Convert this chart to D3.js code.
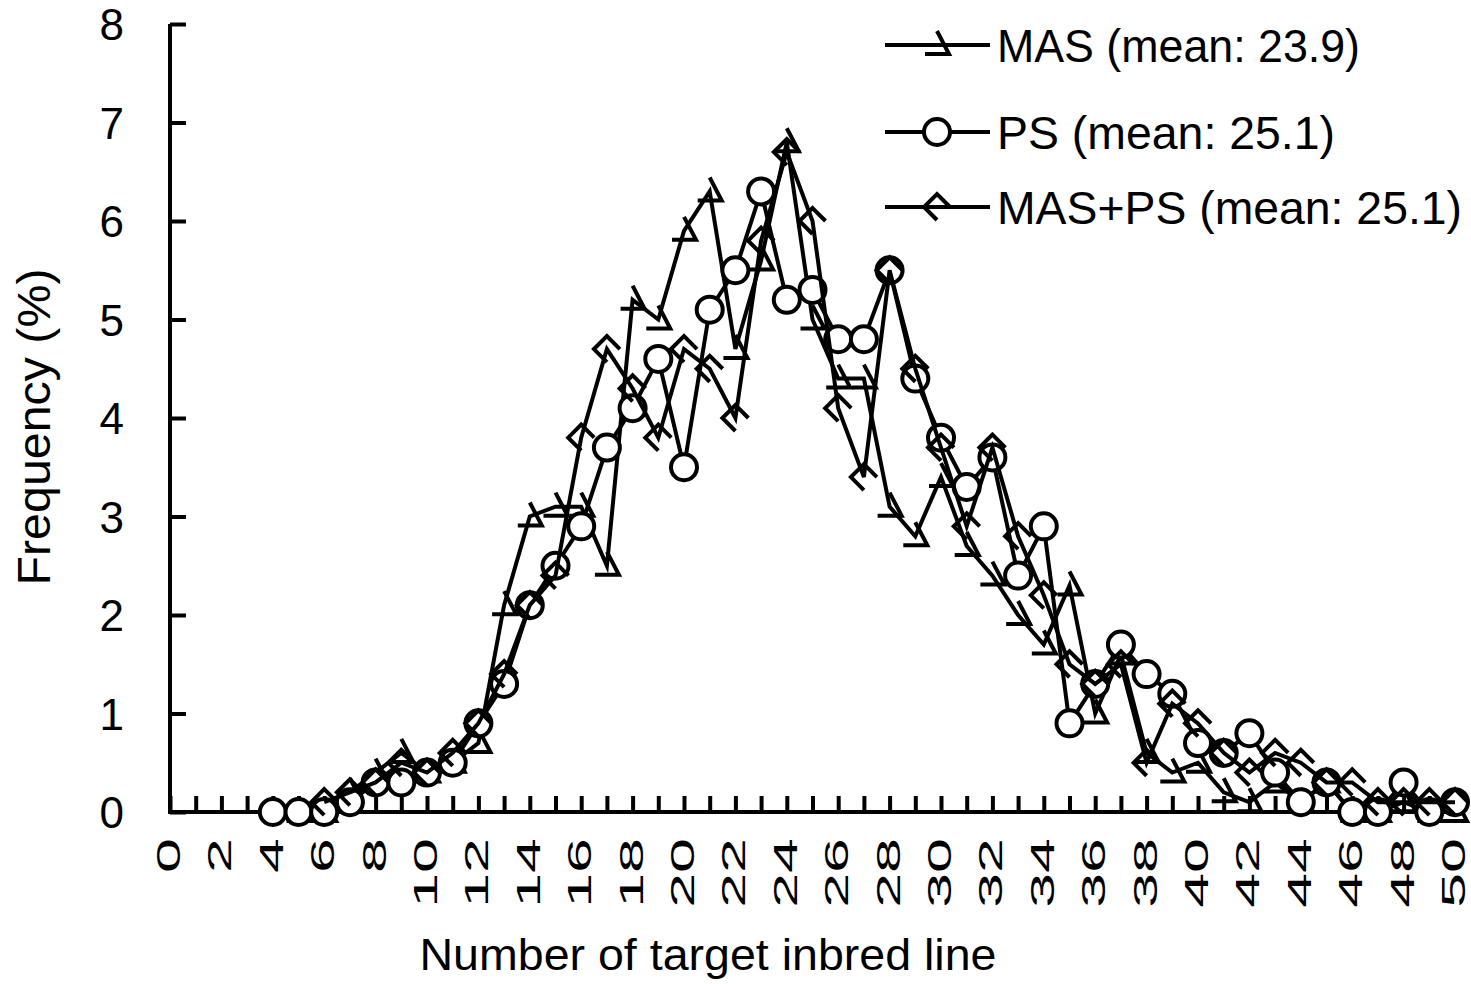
<!DOCTYPE html>
<html>
<head>
<meta charset="utf-8">
<script src="https://cdn.jsdelivr.net/npm/d3@7"></script>
<style>
  body { margin: 0; background: #fff; }
  text { font-family: "Liberation Sans", Arial, sans-serif; fill: #000; }
</style>
</head>
<body>
<div id="chart"></div>
<script>
// frequency of target inbred lines per selection method

var svgwidth = 1471;
var svgheight = 984;

// x categories (number of target inbred lines)
var bins = [4,5,6,7,8,9,10,11,12,13,14,15,16,17,18,19,20,21,22,23,24,25,26,27,
            28,29,30,31,32,33,34,35,36,37,38,39,40,41,42,43,44,45,46,47,48,49,50];

// frequency (%) for each method, null = no point
var masValues = [null,0,0,0.2,0.4,0.6,0.4,0.5,0.7,2.1,3.0,3.1,3.1,2.5,5.2,5.0,5.9,6.3,4.7,5.6,
                 6.8,5.0,4.4,4.4,3.1,2.8,3.4,2.7,2.4,2.0,1.7,2.3,1.0,1.6,0.6,0.4,0.5,0.2,0.1,0.3,
                 0.1,0.3,0,0,0.1,0,0];
var psValues = [0,0,0,0.1,0.3,0.3,0.4,0.5,0.9,1.3,2.1,2.5,2.9,3.7,4.1,4.6,3.5,5.1,5.5,6.3,
                5.2,5.3,4.8,4.8,5.5,4.4,3.8,3.3,3.6,2.4,2.9,0.9,1.3,1.7,1.4,1.2,0.7,0.6,0.8,0.4,
                0.1,0.3,0,0,0.3,0,0.1];
var masPsValues = [null,null,0.1,0.2,0.3,0.5,0.4,0.6,0.9,1.4,2.1,2.4,3.8,4.7,4.3,3.8,4.7,4.5,4.0,5.8,
                   6.7,6.0,4.1,3.4,5.5,4.5,3.7,2.9,3.7,2.8,2.2,1.5,1.3,1.5,0.5,1.1,0.9,0.6,0.4,0.6,
                   0.5,0.3,0.3,0.1,0.1,0.1,0.1];

var seriesNames = ["MAS (mean: 23.9)", "PS (mean: 25.1)", "MAS+PS (mean: 25.1)"];
var seriesKeys = ["tri", "circle", "diamond"];
var yTicks = [0,1,2,3,4,5,6,7,8];
var xMinorTicks = d3.range(0, 51, 1);
var xLabelTicks = [0,2,4,6,8,10,12,14,16,18,20,22,24,26,28,30,32,34,36,38,40,42,44,46,48,50];

var allSeries = [masValues, psValues, masPsValues].map(function(vals, i) {
  return {
    name: seriesNames[i],
    marker: seriesKeys[i],
    points: bins.map(function(b, j) { return {x: b, y: vals[j]}; })
                .filter(function(d) { return d.y !== null; })
  };
});

var svg = d3.select("#chart").append("svg")
  .attr("width", svgwidth)
  .attr("height", svgheight);

var xScale = d3.scaleLinear().domain([0, 50]).range([170, 1455]);
var yScale = d3.scaleLinear().domain([0, 8]).range([812, 24]);

// marker shapes (the picture shows them partly open)
var markerPath = {
  tri: "M-12,9 L12,9 L0,-14",
  diamond: "M0,13 L-13,0 L0,-13 L13,0"
};

function drawMarker(sel, kind) {
  if (kind === "circle") {
    sel.append("circle").attr("r", 13)
      .attr("fill", "#fff").attr("stroke", "#000").attr("stroke-width", 4);
  } else {
    sel.append("path").attr("d", markerPath[kind])
      .attr("fill", "none").attr("stroke", "#000").attr("stroke-width", 4)
      .attr("stroke-linejoin", "miter");
  }
}

// axes
var yAxis = d3.axisLeft(yScale).tickValues(yTicks).tickSize(-16).tickFormat(d3.format("d"));
var xAxis = d3.axisBottom(xScale).tickValues(xMinorTicks).tickSize(-16).tickFormat("");

var gy = svg.append("g").attr("class", "y axis")
  .attr("transform", "translate(170,0)")
  .call(yAxis);
gy.select(".domain").remove();
gy.selectAll("line").attr("stroke", "#000").attr("stroke-width", 4);
gy.selectAll("text")
  .attr("x", -46)
  .attr("dy", "0.36em")
  .style("font-size", "44px");

var gx = svg.append("g").attr("class", "x axis")
  .attr("transform", "translate(0,812)")
  .call(xAxis);
gx.select(".domain").remove();
gx.selectAll("line").attr("stroke", "#000").attr("stroke-width", 4);

// axis lines
svg.append("line")
  .attr("x1", 170).attr("x2", 170)
  .attr("y1", yScale(8)).attr("y2", yScale(0) + 2)
  .attr("stroke", "#000").attr("stroke-width", 4);
svg.append("line")
  .attr("x1", 168).attr("x2", xScale(50))
  .attr("y1", yScale(0)).attr("y2", yScale(0))
  .attr("stroke", "#000").attr("stroke-width", 4);

// rotated x labels (stretched along the text like the source)
svg.append("g").selectAll("text")
  .data(xLabelTicks)
  .enter()
  .append("text")
    .attr("transform", function(d) {
      return "translate(" + xScale(d) + ",838) rotate(-90) scale(1.9,1)";
    })
    .attr("text-anchor", "end")
    .attr("dy", "0.3em")
    .style("font-size", "33px")
    .text(function(d) { return d; });

// axis titles
svg.append("text")
  .attr("x", 708).attr("y", 970)
  .attr("text-anchor", "middle")
  .attr("textLength", 577)
  .attr("lengthAdjust", "spacingAndGlyphs")
  .style("font-size", "45px")
  .text("Number of target inbred line");

svg.append("text")
  .attr("transform", "translate(50,427) rotate(-90)")
  .attr("text-anchor", "middle")
  .attr("textLength", 317)
  .attr("lengthAdjust", "spacingAndGlyphs")
  .style("font-size", "47px")
  .text("Frequency (%)");

// series
var line = d3.line()
  .x(function(d) { return xScale(d.x); })
  .y(function(d) { return yScale(d.y); });

allSeries.forEach(function(s) {
  var g = svg.append("g").attr("class", "series");
  g.append("path")
    .datum(s.points)
    .attr("d", line)
    .attr("fill", "none")
    .attr("stroke", "#000")
    .attr("stroke-width", 4)
    .attr("stroke-linejoin", "miter");
  g.selectAll("g.pt")
    .data(s.points)
    .enter()
    .append("g")
      .attr("class", "pt")
      .attr("transform", function(d) { return "translate(" + xScale(d.x) + "," + yScale(d.y) + ")"; })
      .each(function() { drawMarker(d3.select(this), s.marker); });
});

// legend
var legend = svg.append("g").attr("class", "legend");
var legendRows = [45, 132, 207];
var legendWidths = [363, 338, 465];
allSeries.forEach(function(s, i) {
  var row = legend.append("g").attr("transform", "translate(0," + legendRows[i] + ")");
  row.append("line")
    .attr("x1", 885).attr("x2", 990)
    .attr("stroke", "#000").attr("stroke-width", 4);
  var m = row.append("g").attr("transform", "translate(937,0)");
  drawMarker(m, s.marker);
  row.append("text")
    .attr("x", 997)
    .attr("dy", "0.36em")
    .attr("textLength", legendWidths[i])
    .attr("lengthAdjust", "spacingAndGlyphs")
    .style("font-size", "47px")
    .text(s.name);
});
</script>
</body>
</html>
